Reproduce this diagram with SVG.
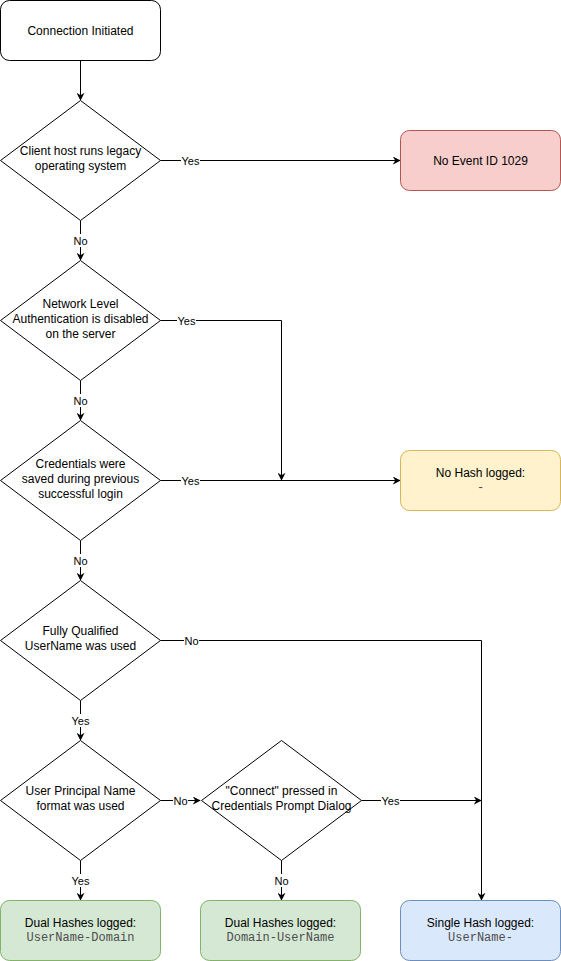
<svg xmlns="http://www.w3.org/2000/svg" width="561" height="961" viewBox="0 0 561 961">
<defs>
<marker id="arr" viewBox="0 0 10 10" refX="9" refY="5" markerWidth="8" markerHeight="8" markerUnits="userSpaceOnUse" orient="auto">
<path d="M0,0 L10,5 L0,10 L3,5 z" fill="#000"/>
</marker>
<style>
.t{font-family:"Liberation Sans",Arial,sans-serif;font-size:12px;fill:#000;text-anchor:middle}
.m{font-family:"Liberation Mono","Courier New",monospace;font-size:12px;fill:#4d4d4d;text-anchor:middle}
.l{font-family:"Liberation Sans",Arial,sans-serif;font-size:11px;fill:#000;text-anchor:middle}
.lb{fill:#fff}
.e{fill:none;stroke:#000;stroke-width:1;marker-end:url(#arr)}
.n{fill:none;stroke:#000;stroke-width:1}
.d{fill:#fff;stroke:#000;stroke-width:1}
</style>
</defs>
<rect width="561" height="961" fill="#fff"/>
<g id="connectors">
<path class="e" d="M80.5,60.5 V100"/>
<path class="e" d="M160.5,160.5 H400"/>
<path class="e" d="M80.5,220.5 V260"/>
<path class="n" d="M160.5,320.5 H281.5"/>
<path class="e" d="M281.5,320.5 V480"/>
<path class="e" d="M80.5,380.5 V420"/>
<path class="e" d="M160.5,480.5 H400"/>
<path class="e" d="M80.5,540.5 V580"/>
<path class="e" d="M160.5,640.5 H481.5 V900"/>
<path class="e" d="M80.5,700.5 V740"/>
<path class="e" d="M160.5,800.5 H200"/>
<path class="e" d="M361.5,800.5 H481"/>
<path class="e" d="M80.5,860.5 V900"/>
<path class="e" d="M281.5,860.5 V900"/>
<rect class="lb" x="181" y="154" width="19" height="13"/><text class="l" x="190.5" y="164.5">Yes</text>
<rect class="lb" x="73" y="234" width="15" height="13"/><text class="l" x="80.5" y="244.5">No</text>
<rect class="lb" x="177" y="314" width="19" height="13"/><text class="l" x="186.5" y="324.5">Yes</text>
<rect class="lb" x="73" y="394" width="15" height="13"/><text class="l" x="80.5" y="404.5">No</text>
<rect class="lb" x="181" y="474" width="19" height="13"/><text class="l" x="190.5" y="484.5">Yes</text>
<rect class="lb" x="73" y="554" width="15" height="13"/><text class="l" x="80.5" y="564.5">No</text>
<rect class="lb" x="184" y="634" width="15" height="13"/><text class="l" x="191.5" y="644.5">No</text>
<rect class="lb" x="71" y="714" width="19" height="13"/><text class="l" x="80.5" y="724.5">Yes</text>
<rect class="lb" x="173" y="794" width="15" height="13"/><text class="l" x="180.5" y="804.5">No</text>
<rect class="lb" x="381" y="794" width="19" height="13"/><text class="l" x="390.5" y="804.5">Yes</text>
<rect class="lb" x="71" y="874" width="19" height="13"/><text class="l" x="80.5" y="884.5">Yes</text>
<rect class="lb" x="274" y="874" width="15" height="13"/><text class="l" x="281.5" y="884.5">No</text>
</g>
<g id="start">
<rect x="0.5" y="0.5" width="160" height="60" rx="9" fill="#fff" stroke="#000"/>
<text class="t" x="80.5" y="34.5">Connection Initiated</text>
</g>
<g id="d-legacy">
<path class="d" d="M80.5,100.5 L160.5,160.5 L80.5,220.5 L0.5,160.5 Z"/>
<text class="t" x="80.5" y="155">Client host runs legacy</text>
<text class="t" x="80.5" y="170">operating system</text>
</g>
<g id="no-event">
<rect x="400.5" y="130.5" width="160" height="60" rx="9" fill="#f8cecc" stroke="#b85450"/>
<text class="t" x="480.5" y="164.5">No Event ID 1029</text>
</g>
<g id="d-nla">
<path class="d" d="M80.5,260.5 L160.5,320.5 L80.5,380.5 L0.5,320.5 Z"/>
<text class="t" x="80.5" y="308">Network Level</text>
<text class="t" x="80.5" y="322.5">Authentication is disabled</text>
<text class="t" x="80.5" y="337.5">on the server</text>
</g>
<g id="d-saved">
<path class="d" d="M80.5,420.5 L160.5,480.5 L80.5,540.5 L0.5,480.5 Z"/>
<text class="t" x="80.5" y="468">Credentials were</text>
<text class="t" x="80.5" y="482.5">saved during previous</text>
<text class="t" x="80.5" y="497.5">successful login</text>
</g>
<g id="no-hash">
<rect x="400.5" y="450.5" width="160" height="60" rx="9" fill="#fff2cc" stroke="#d6b656"/>
<text class="t" x="480.5" y="476.5">No Hash logged:</text>
<text class="m" x="480.5" y="491">-</text>
</g>
<g id="d-fq">
<path class="d" d="M80.5,580.5 L160.5,640.5 L80.5,700.5 L0.5,640.5 Z"/>
<text class="t" x="80.5" y="635">Fully Qualified</text>
<text class="t" x="80.5" y="650">UserName was used</text>
</g>
<g id="d-upn">
<path class="d" d="M80.5,740.5 L160.5,800.5 L80.5,860.5 L0.5,800.5 Z"/>
<text class="t" x="80.5" y="795">User Principal Name</text>
<text class="t" x="80.5" y="810">format was used</text>
</g>
<g id="d-connect">
<path class="d" d="M281.5,740.5 L361.5,800.5 L281.5,860.5 L201.5,800.5 Z"/>
<text class="t" x="281.5" y="795">"Connect" pressed in</text>
<text class="t" x="281.5" y="810">Credentials Prompt Dialog</text>
</g>
<g id="dual-ud">
<rect x="0.5" y="900.5" width="160" height="60" rx="9" fill="#d5e8d4" stroke="#82b366"/>
<text class="t" x="80.5" y="926.5">Dual Hashes logged:</text>
<text class="m" x="80.5" y="941">UserName-Domain</text>
</g>
<g id="dual-du">
<rect x="200.5" y="900.5" width="160" height="60" rx="9" fill="#d5e8d4" stroke="#82b366"/>
<text class="t" x="280.5" y="926.5">Dual Hashes logged:</text>
<text class="m" x="280.5" y="941">Domain-UserName</text>
</g>
<g id="single">
<rect x="400.5" y="900.5" width="160" height="60" rx="9" fill="#dae8fc" stroke="#6c8ebf"/>
<text class="t" x="480.5" y="926.5">Single Hash logged:</text>
<text class="m" x="480.5" y="941">UserName-</text>
</g>
</svg>
